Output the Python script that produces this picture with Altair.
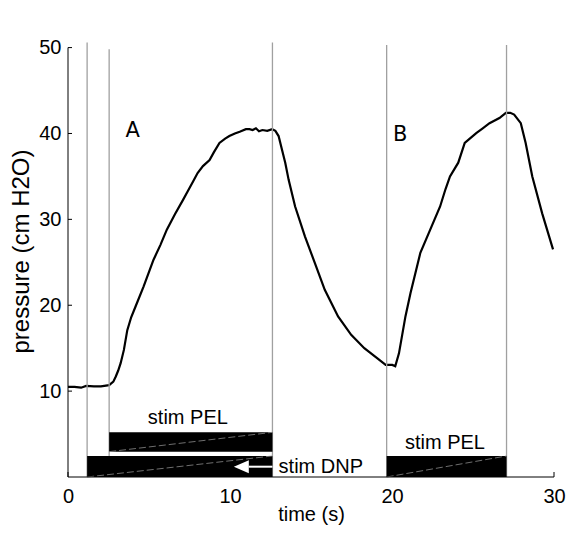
import altair as alt
import pandas as pd

# ---- data ----
time_s = [0, 0.4, 0.81, 1.12, 1.6, 2.03, 2.54, 2.8, 2.95, 3.1, 3.25, 3.45, 3.66, 3.9,
          4.17, 4.67, 5.28, 5.7, 6.1, 6.6, 7.11, 7.4, 7.72, 8.0, 8.33, 8.74, 9.0, 9.35,
          9.7, 9.96, 10.3, 10.6, 10.98, 11.2, 11.4, 11.6, 11.79, 12.0, 12.3, 12.6, 12.8,
          13.0, 13.21, 13.41, 13.62, 14.02, 14.63, 15.24, 15.85, 16.67, 17.48, 18.29,
          19.1, 19.61, 20.02, 20.2, 20.43, 20.83, 21.14, 21.75, 22.36, 22.97, 23.3, 23.58,
          24.09, 24.49, 25.2, 25.6, 26.02, 26.63, 27.03, 27.3, 27.54, 27.95, 28.25, 28.66,
          29.27, 29.94]
pressure = [10.5, 10.5, 10.4, 10.6, 10.55, 10.55, 10.7, 11.1, 11.7, 12.4, 13.25, 14.8,
            17.1, 18.6, 19.85, 22.2, 25.3, 27.0, 28.8, 30.6, 32.3, 33.3, 34.4, 35.4, 36.2,
            36.9, 37.8, 38.9, 39.4, 39.7, 40.0, 40.2, 40.5, 40.5, 40.4, 40.6, 40.25, 40.4,
            40.3, 40.5, 40.3, 39.7, 38.1, 36.6, 34.6, 31.5, 28.0, 24.9, 21.8, 18.7, 16.55,
            15.0, 13.8, 13.05, 13.05, 12.9, 14.4, 18.7, 21.4, 26.1, 28.8, 31.5, 33.5, 35.0,
            36.6, 38.9, 40.05, 40.6, 41.2, 41.8, 42.4, 42.4, 42.2, 41.2, 38.9, 35.0, 30.7,
            26.5]

vline_t = [1.18, 2.54, 12.62, 19.67, 27.07]
vline_top = [50.6, 49.8, 50.6, 50.3, 50.3]

bar_start = [2.54, 1.18, 19.67]
bar_end = [12.62, 12.62, 27.07]
bar_bottom = [2.95, 0.0, 0.0]
bar_top = [5.2, 2.45, 2.45]

pel_label = ["stim PEL", "stim PEL"]
pel_x = [7.4, 23.27]
pel_y = [6.9, 4.0]

dnp_label = ["stim DNP"]
dnp_x = [13.0]
dnp_y = [1.2]

arrow_head_x = [10.7]
arrow_shaft_start = [11.16]
arrow_shaft_end = [12.62]
arrow_y = [1.2]

panel_label = ["A", "B"]
panel_x = [4.0, 20.5]
panel_y = [40.3, 39.8]

x_tick_values = [0, 10, 20, 30]
y_tick_values = [10, 20, 30, 40, 50]
x_axis_span = [0, 30]
y_axis_span = [0, 50]

W, H = 486, 438
xs = alt.Scale(domain=[0, 30], nice=False, zero=False)
ys = alt.Scale(domain=[0, 51], nice=False, zero=False)
FONT = "Liberation Sans"

AX = alt.Axis(values=x_tick_values, format="d", domain=False, ticks=False,
              tickSize=0, grid=False, labelFont=FONT, labelFontSize=20,
              labelColor="black", labelPadding=9, labelFlush=False,
              titleFont=FONT, titleFontSize=20, titleFontWeight="normal",
              titleColor="black", titleBaseline="bottom", titleY=47)
AY = alt.Axis(values=y_tick_values, format="d", domain=False, ticks=False,
              tickSize=0, grid=False, labelFont=FONT, labelFontSize=20,
              labelColor="black", labelPadding=7, labelFlush=False,
              titleFont=FONT, titleFontSize=24, titleFontWeight="normal",
              titleColor="black", titleX=-35, titleY=212)
XT = "time (s)"
YT = "pressure (cm H2O)"


def X(field):
    return alt.X(field, scale=xs, axis=AX, title=XT)


def Y(field):
    return alt.Y(field, scale=ys, axis=AY, title=YT)


curve_df = pd.DataFrame({"t": time_s, "p": pressure})
vline_df = pd.DataFrame({"t": vline_t, "top": vline_top, "bot": [0] * len(vline_t)})
bar_df = pd.DataFrame({"x0": bar_start, "x1": bar_end, "y0": bar_bottom, "y1": bar_top})
pel_df = pd.DataFrame({"label": pel_label, "x": pel_x, "y": pel_y})
dnp_df = pd.DataFrame({"label": dnp_label, "x": dnp_x, "y": dnp_y})
head_df = pd.DataFrame({"x": arrow_head_x, "y": arrow_y})
shaft_df = pd.DataFrame({"x0": arrow_shaft_start, "x1": arrow_shaft_end, "y": arrow_y})
panel_df = pd.DataFrame({"label": panel_label, "x": panel_x, "y": panel_y})
xt_df = pd.DataFrame({"v": x_tick_values})
yt_df = pd.DataFrame({"v": y_tick_values})
xline_df = pd.DataFrame({"a": [x_axis_span[0]], "b": [x_axis_span[1]], "z": [0]})
yline_df = pd.DataFrame({"a": [y_axis_span[0]], "b": [y_axis_span[1]], "z": [0]})

curve = alt.Chart(curve_df).mark_line(color="black", strokeWidth=2.2).encode(
    x=X("t:Q"), y=Y("p:Q"), order="t:Q",
)

vlines = alt.Chart(vline_df).mark_rule(color="#a0a0a0", strokeWidth=1.3).encode(
    x=X("t:Q"), y=Y("bot:Q"), y2="top:Q",
)

xticks = alt.Chart(xt_df).mark_rule(color="black", strokeWidth=1).encode(
    x=X("v:Q"), y=alt.value(H), y2=alt.value(H - 5),
)
yticks = alt.Chart(yt_df).mark_rule(color="black", strokeWidth=1).encode(
    y=Y("v:Q"), x=alt.value(0), x2=alt.value(4),
)

bars = alt.Chart(bar_df).mark_rect(color="black").encode(
    x=X("x0:Q"), x2="x1:Q", y=Y("y0:Q"), y2="y1:Q",
)
diags = alt.Chart(bar_df).mark_rule(color="#8a8a8a", strokeWidth=0.8, strokeDash=[7, 3]).encode(
    x=X("x0:Q"), x2="x1:Q", y=Y("y0:Q"), y2="y1:Q",
)

shaft = alt.Chart(shaft_df).mark_rule(color="white", strokeWidth=2).encode(
    x=X("x0:Q"), x2="x1:Q", y=Y("y:Q"),
)
head = alt.Chart(head_df).mark_point(
    shape="M-1,0L1,-0.87L1,0.87Z", filled=True, color="white", opacity=1, size=225
).encode(x=X("x:Q"), y=Y("y:Q"))

x_axis_line = alt.Chart(xline_df).mark_rule(color="black", strokeWidth=1).encode(
    x=X("a:Q"), x2="b:Q", y=Y("z:Q")
)
y_axis_line = alt.Chart(yline_df).mark_rule(color="black", strokeWidth=1).encode(
    y=Y("a:Q"), y2="b:Q", x=X("z:Q")
)

pel_text = alt.Chart(pel_df).mark_text(font=FONT, fontSize=20, color="black",
                                        align="center", baseline="middle").encode(
    x=X("x:Q"), y=Y("y:Q"), text="label:N"
)
dnp_text = alt.Chart(dnp_df).mark_text(font=FONT, fontSize=20, color="black",
                                        align="left", baseline="middle").encode(
    x=X("x:Q"), y=Y("y:Q"), text="label:N"
)
panel_text = alt.Chart(panel_df).mark_text(font="DejaVu Sans", fontSize=21, color="black",
                                            align="center", baseline="middle").encode(
    x=X("x:Q"), y=Y("y:Q"), text="label:N"
)

chart = alt.layer(
    curve, vlines, xticks, yticks, bars, diags, shaft, head,
    x_axis_line, y_axis_line, pel_text, dnp_text, panel_text,
).properties(
    width=W, height=H,
    autosize=alt.AutoSizeParams(type="none"),
    padding={"left": 60, "top": 31, "right": 13, "bottom": 48},
).configure_view(stroke=None)

chart.save("out.html", embed_options={"renderer": "svg", "actions": False})
